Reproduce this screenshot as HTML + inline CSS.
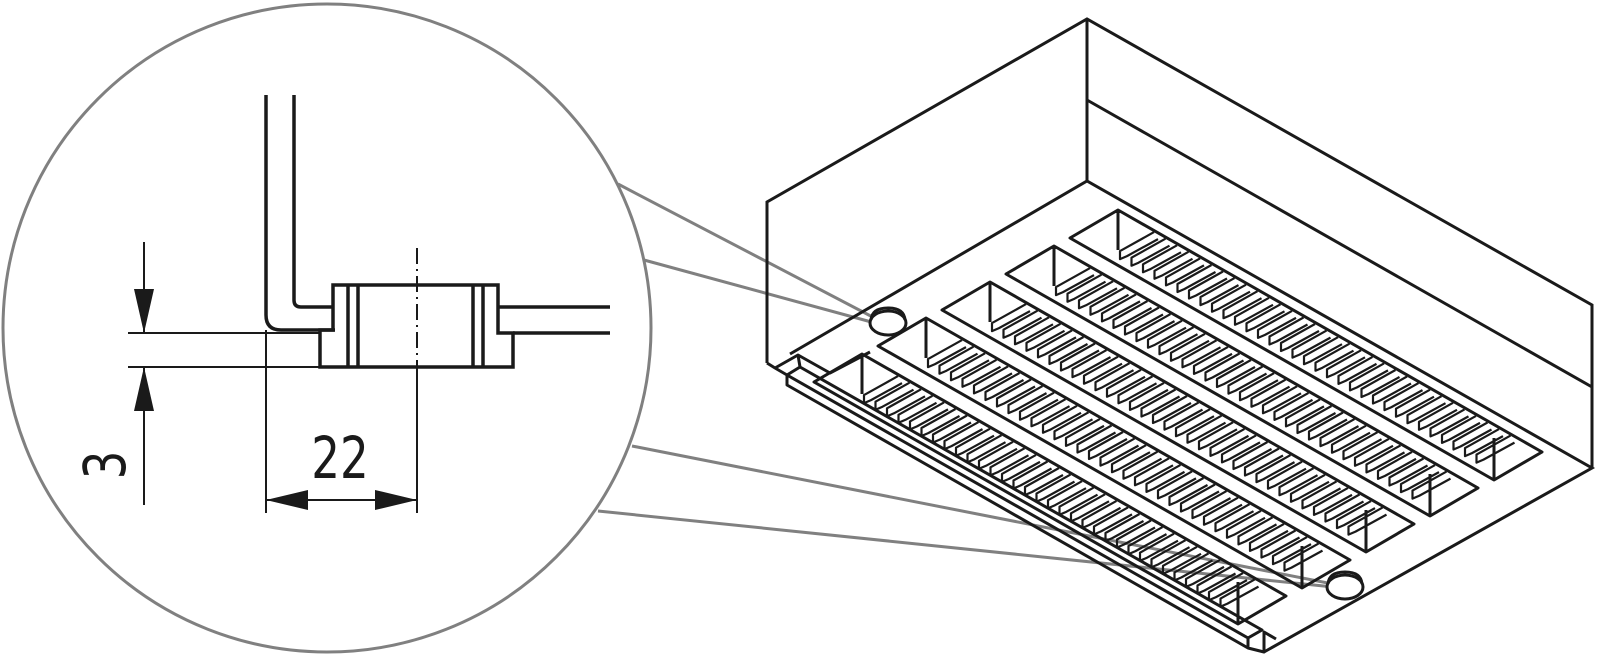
<!DOCTYPE html>
<html><head><meta charset="utf-8"><style>
html,body{margin:0;padding:0;background:#fff;}
svg{display:block;}
</style></head><body>
<svg id="s" width="1600" height="654" viewBox="0 0 1600 654" xmlns="http://www.w3.org/2000/svg">
<rect width="1600" height="654" fill="#fff"/>
<circle cx="327" cy="328" r="324" fill="none" stroke="#808080" stroke-width="3"/>
<g fill="none" stroke="#1a1a1a" stroke-width="3.5" stroke-linejoin="miter">
<path d="M266,95 L266,315 Q266,330 281,330 L335,330"/>
<path d="M294,95 L294,300 Q294,307 301,307 L333,307"/>
<path d="M320,367 L320,330 L333,330 L333,285 L498,285 L498,333 L513,333 L513,367 Z"/>
<path d="M348,285V367 M358,285V367 M473,285V367 M483,285V367"/>
<path d="M498,307H610 M513,333H610"/>
</g>
<g fill="none" stroke="#1a1a1a" stroke-width="2">
<path d="M417,248V367" stroke-dasharray="16 5 2 5"/>
<path d="M417,367V513"/>
<path d="M128,333H320 M128,367H320"/>
<path d="M266,330V513"/>
<path d="M144,242V333 M144,367V505"/>
<path d="M266,500H417"/>
</g>
<g fill="#1a1a1a">
<polygon points="134,289 154,289 144,333"/>
<polygon points="134,411 154,411 144,367"/>
<polygon points="266,500 308,490 308,510"/>
<polygon points="417,500 375,490 375,510"/>
</g>
<text x="340" y="478" font-family="DejaVu Sans, sans-serif" font-size="58" text-anchor="middle" fill="#1a1a1a" transform="translate(340,0) scale(0.78,1) translate(-340,0)">22</text>
<text x="0" y="0" font-family="DejaVu Sans, sans-serif" font-size="58" text-anchor="middle" fill="#1a1a1a" transform="translate(125,465) rotate(-90) scale(0.78,1)">3</text>
<g stroke="#808080" stroke-width="3" fill="none">
<path d="M618,184L886,324 M644,260L886,326 M632,446L1343,586 M598,511L1343,588"/>
</g>
<g fill="none" stroke="#1a1a1a" stroke-width="3" stroke-linejoin="miter">
<path d="M767,363 L767,202 L1087,19 L1592,305 L1592,468"/>
<path d="M1087,19 L1087,181"/>
<path d="M1087,100 L1592,387"/>
<path d="M790,354 L1087,181 L1592,468 L1264,652"/>
</g>
<g id="gen" fill="none" stroke="#1a1a1a"></g>
<g fill="#fff" stroke="#1a1a1a" stroke-width="3">
<ellipse cx="888" cy="323" rx="18" ry="12"/>
<path d="M871,320 Q872,308 888,308 Q904,308 905,320" fill="none"/>
<ellipse cx="1345" cy="587" rx="18" ry="12"/>
<path d="M1328,584 Q1329,572 1345,572 Q1361,572 1362,584" fill="none"/>
</g>
</svg>
<script>
(function(){
var g=document.getElementById('gen'),ns='http://www.w3.org/2000/svg',d='',r='';
function P(x,y){return x.toFixed(1)+','+y.toFixed(1);}
var Lx=424,Ly=242,wx=-48,wy=28,k=Ly/Lx;
for(var i=0;i<5;i++){
 var tx=1118-64*i,ty=210+36*i;
 d+='M'+P(tx,ty)+'L'+P(tx+Lx,ty+Ly)+'L'+P(tx+Lx+wx,ty+Ly+wy)+'L'+P(tx+wx,ty+wy)+'Z';
 d+='M'+P(tx,ty)+'L'+P(tx,ty+40);
 var bx=tx+Lx+wx,by=ty+Ly+wy;
 d+='M'+P(bx,by)+'L'+P(bx,by-42);
 for(var t=2;t<Lx-62;t+=11.5){
  var x=tx+t,y=ty+40+t*k;
  r+='M'+P(x+34,y-19)+'L'+P(x,y)+'L'+P(x,y+8)+'L'+P(x+7,y+5)+'L'+P(x+38,y-12);
 }
}
d+='M767,363 L775,368 L798,355 L830,373 L870,352';
d+='M775,368 L787,375 L800,367 L798,355 M787,375 L787,385 L1248,648 L1248,638 L787,375 M800,367 L1262,630 L1248,638';
d+='M1248,648 L1264,652 L1264,632 L1276,639';
var p1=document.createElementNS(ns,'path');p1.setAttribute('d',d);p1.setAttribute('stroke-width','3');p1.setAttribute('stroke-linejoin','round');g.appendChild(p1);
var p2=document.createElementNS(ns,'path');p2.setAttribute('d',r);p2.setAttribute('stroke-width','2.2');p2.setAttribute('stroke-linejoin','round');g.appendChild(p2);
})();
</script>
</body></html>
